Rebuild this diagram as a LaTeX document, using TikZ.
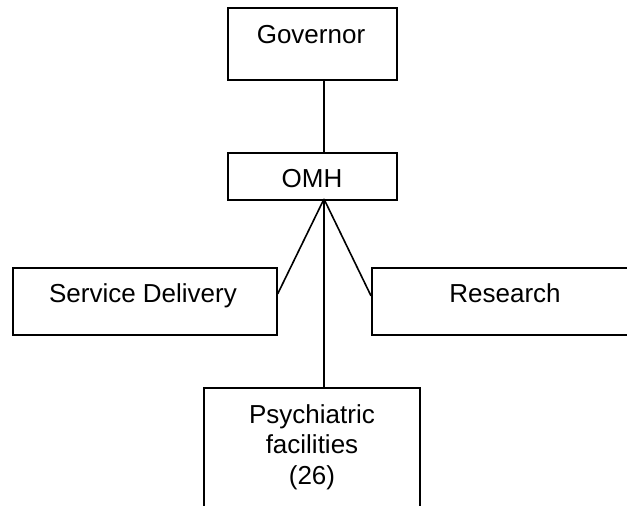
\documentclass[tikz,border=0pt]{standalone}
\usepackage{fontspec}
\setmainfont{Liberation Sans}
\usetikzlibrary{calc}
\begin{document}
\begin{tikzpicture}[x=1pt,y=-1pt,
  orgbox/.style={draw=black,line width=1.7pt,rectangle,inner sep=0pt,anchor=north west},
  orgtext/.style={inner sep=0pt,font=\fontsize{26}{30.5}\selectfont,text=black},
  link/.style={draw=black,line width=1.6pt}]
  \useasboundingbox (0,0) rectangle (627,506);
  \clip (0,0) rectangle (627,506);
  \fill[white] (0,0) rectangle (627,506);

  % boxes
  \node[orgbox,minimum width=169pt,minimum height=72pt] (gov) at (227,7) {};
  \node[orgbox,minimum width=169pt,minimum height=47pt] (omh) at (227,152) {};
  \node[orgbox,minimum width=264pt,minimum height=67pt] (svc) at (12,267) {};
  \node[orgbox,minimum width=268pt,minimum height=67pt] (res) at (371,267) {};
  \node[orgbox,minimum width=216pt,minimum height=140pt] (psy) at (203,387) {};

  % labels
  \node[orgtext,anchor=base] (govt) at (311,43) {Governor};
  \node[orgtext,anchor=base] (omht) at (312,187) {OMH};
  \node[orgtext,anchor=base] (svct) at (143,302) {Service Delivery};
  \node[orgtext,anchor=base] (rest) at (505,302) {Research};
  \node[orgtext,anchor=north,align=center] (psyt) at (312,404) {Psychiatric\\facilities\\(26)};

  % connectors
  \coordinate (hub) at (324,199);
  \draw[link] (gov.south -| hub) -- (omh.north -| hub);
  \draw[link] (hub) -- ([yshift=7.5pt]svc.east);
  \draw[link] (hub) -- ([yshift=5.5pt]res.west);
  \draw[link] (hub) -- (psy.north -| hub);
\end{tikzpicture}
\end{document}
